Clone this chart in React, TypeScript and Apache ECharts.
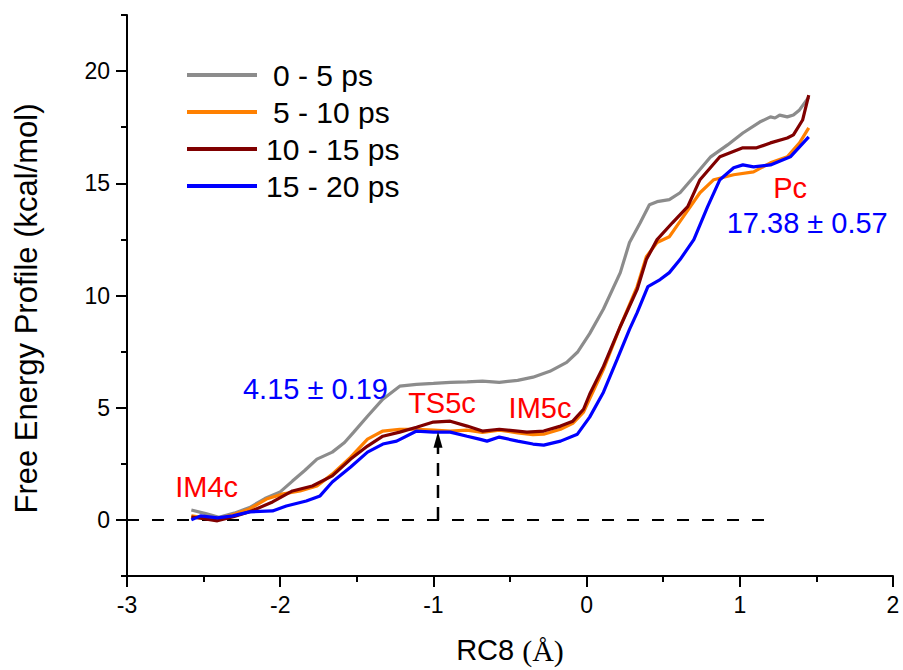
import React, { useEffect, useRef } from "react";
import * as echarts from "echarts";

// ---- data (RC8 in Å, free energy in kcal/mol) ----
const seriesNames = ["0 - 5 ps", "5 - 10 ps", "10 - 15 ps", "15 - 20 ps"];
const seriesColors = ["#8c8c8c", "#ff8000", "#800000", "#0000ff"];

const gray05: number[][] = [
  [-2.58, 0.44], [-2.48, 0.27], [-2.4, 0.12], [-2.3, 0.3], [-2.2, 0.55], [-2.1, 0.95],
  [-2.0, 1.25], [-1.92, 1.73], [-1.84, 2.2], [-1.76, 2.71], [-1.66, 3.02], [-1.58, 3.45],
  [-1.52, 3.91], [-1.43, 4.62], [-1.33, 5.38], [-1.22, 5.96], [-1.11, 6.04], [-1.0, 6.08],
  [-0.89, 6.13], [-0.78, 6.15], [-0.68, 6.18], [-0.57, 6.13], [-0.45, 6.22], [-0.35, 6.36],
  [-0.24, 6.62], [-0.13, 7.02], [-0.06, 7.47], [0.02, 8.3], [0.11, 9.4], [0.22, 11.02],
  [0.28, 12.36], [0.35, 13.24], [0.41, 14.04], [0.46, 14.18], [0.54, 14.27], [0.61, 14.58],
  [0.7, 15.29], [0.81, 16.18], [0.92, 16.71], [1.02, 17.24], [1.13, 17.73], [1.2, 17.96],
  [1.23, 17.91], [1.26, 18.04], [1.31, 17.96], [1.35, 18.04], [1.39, 18.27], [1.45, 18.84],
];

const orange510: number[][] = [
  [-2.58, 0.18], [-2.5, 0.1], [-2.41, 0.04], [-2.3, 0.25], [-2.2, 0.49], [-2.09, 0.93],
  [-1.98, 1.16], [-1.87, 1.29], [-1.76, 1.51], [-1.66, 2.04], [-1.54, 2.8], [-1.43, 3.6],
  [-1.33, 3.96], [-1.22, 4.04], [-1.11, 4.04], [-1.0, 4.0], [-0.89, 3.96], [-0.78, 4.0],
  [-0.68, 3.9], [-0.57, 4.0], [-0.45, 3.88], [-0.35, 3.8], [-0.28, 3.82], [-0.17, 4.04],
  [-0.09, 4.3], [-0.02, 4.8], [0.02, 5.4], [0.11, 6.71], [0.22, 8.62], [0.33, 10.4],
  [0.39, 11.73], [0.46, 12.36], [0.54, 12.62], [0.61, 13.3], [0.74, 14.58], [0.83, 15.16],
  [0.96, 15.38], [1.09, 15.51], [1.2, 15.91], [1.31, 16.18], [1.39, 16.8], [1.45, 17.47],
];

const maroon1015: number[][] = [
  [-2.58, 0.13], [-2.5, 0.05], [-2.41, -0.04], [-2.3, 0.15], [-2.2, 0.36], [-2.05, 0.8],
  [-1.92, 1.29], [-1.79, 1.51], [-1.66, 1.96], [-1.54, 2.71], [-1.43, 3.29], [-1.33, 3.73],
  [-1.22, 3.91], [-1.11, 4.13], [-1.0, 4.36], [-0.89, 4.4], [-0.78, 4.18], [-0.68, 3.96],
  [-0.57, 4.04], [-0.45, 3.96], [-0.39, 3.91], [-0.28, 3.96], [-0.17, 4.18], [-0.09, 4.4],
  [-0.02, 4.93], [0.02, 5.6], [0.11, 6.84], [0.22, 8.62], [0.33, 10.27], [0.39, 11.6],
  [0.46, 12.49], [0.56, 13.24], [0.66, 13.96], [0.74, 15.16], [0.87, 16.18], [1.02, 16.58],
  [1.11, 16.58], [1.2, 16.8], [1.31, 17.02], [1.35, 17.16], [1.41, 17.82], [1.45, 18.93],
];

const blue1520: number[][] = [
  [-2.58, 0.0], [-2.52, 0.18], [-2.41, 0.09], [-2.31, 0.18], [-2.2, 0.36], [-2.05, 0.4],
  [-1.96, 0.62], [-1.83, 0.84], [-1.74, 1.07], [-1.66, 1.69], [-1.54, 2.36], [-1.43, 3.02],
  [-1.33, 3.38], [-1.24, 3.51], [-1.11, 3.96], [-1.0, 3.91], [-0.89, 3.91], [-0.78, 3.73],
  [-0.7, 3.6], [-0.65, 3.51], [-0.57, 3.69], [-0.45, 3.51], [-0.35, 3.38], [-0.28, 3.33],
  [-0.17, 3.51], [-0.06, 3.82], [0.02, 4.58], [0.11, 5.69], [0.2, 7.16], [0.28, 8.49],
  [0.33, 9.24], [0.4, 10.4], [0.48, 10.71], [0.54, 11.02], [0.61, 11.6], [0.7, 12.49],
  [0.79, 13.96], [0.87, 15.16], [0.96, 15.69], [1.02, 15.82], [1.09, 15.73], [1.2, 15.82],
  [1.33, 16.18], [1.39, 16.62], [1.45, 17.07],
];

const allSeries = [gray05, orange510, maroon1015, blue1520];

const xTicks = [-3, -2, -1, 0, 1, 2];
const yTicks = [0, 5, 10, 15, 20];

// reference lines
const zeroLine: number[][] = [[-3, 0], [1.22, 0]];
const tsArrowX = -0.97;
const tsArrowShaft: number[][] = [[tsArrowX, 0], [tsArrowX, 3.45]];
const tsArrowTip: number[][] = [[tsArrowX, 3.93]];

// annotations
const labelTexts = ["IM4c", "4.15 ± 0.19", "TS5c", "IM5c", "Pc", "17.38 ± 0.57"];
const labelX = [-2.48, -1.77, -0.944, -0.304, 1.328, 1.44];
const labelY = [1.45, 5.82, 5.2, 4.98, 14.8, 13.24];
const labelColors = ["#ff0000", "#0000ff", "#ff0000", "#ff0000", "#ff0000", "#0000ff"];

const SANS = "'Liberation Sans', Arial, sans-serif";

export default function App() {
  const ref = useRef<HTMLDivElement>(null);

  useEffect(() => {
    if (!ref.current) return;
    const chart = echarts.init(ref.current, undefined, { renderer: "svg" });

    const lineSeries = allSeries.map((d, i) => ({
      name: seriesNames[i],
      type: "line",
      data: d,
      showSymbol: false,
      symbol: "none",
      lineStyle: { color: seriesColors[i], width: 3.2 },
      itemStyle: { color: seriesColors[i] },
      z: 3 + i,
    }));

    const annData = labelTexts.map((t, i) => ({
      value: [labelX[i], labelY[i]],
      label: {
        show: true,
        position: "inside",
        formatter: t,
        color: labelColors[i],
        fontSize: 29,
        fontFamily: SANS,
        opacity: 1,
      },
    }));

    const legendData = seriesNames.map((n, i) => ({
      name: n,
      textStyle: { padding: [0, 0, 0, i < 2 ? 11 : 4] },
    }));

    const option: any = {
      animation: false,
      backgroundColor: "#ffffff",
      textStyle: { fontFamily: SANS },
      grid: { left: 127, right: 10, top: 15, bottom: 93, containLabel: false },
      legend: {
        data: legendData,
        orient: "vertical",
        left: 187,
        top: 60,
        padding: 0,
        icon: "rect",
        itemWidth: 70,
        itemHeight: 4,
        itemGap: 7,
        textStyle: {
          fontSize: 30,
          fontFamily: SANS,
          color: "#000",
          lineHeight: 30,
          padding: [0, 0, 0, 4],
        },
        selectedMode: false,
      },
      xAxis: {
        type: "value",
        min: -3,
        max: 2,
        interval: 1,
        name: "RC8 {s|(Å)}",
        nameLocation: "middle",
        nameGap: 59,
        nameTextStyle: {
          fontSize: 29,
          fontFamily: SANS,
          color: "#000",
          rich: { s: { fontSize: 30, fontFamily: "'Liberation Serif', serif", color: "#000" } },
        },
        axisLine: { show: true, onZero: false, lineStyle: { color: "#000", width: 2 } },
        axisTick: { show: true, inside: false, length: 11, lineStyle: { color: "#000", width: 2 } },
        minorTick: { show: true, splitNumber: 2, length: 6, lineStyle: { color: "#000", width: 2 } },
        axisLabel: {
          fontSize: 23,
          color: "#000",
          margin: 17,
          fontFamily: SANS,
          customValues: xTicks,
        },
        splitLine: { show: false },
      },
      yAxis: [
        {
          type: "value",
          min: -2.5,
          max: 22.5,
          interval: 2.5,
          position: "left",
          name: "Free Energy Profile (kcal/mol)",
          nameLocation: "middle",
          nameGap: 85,
          nameRotate: 90,
          nameTextStyle: {
            fontSize: 31,
            fontFamily: SANS,
            color: "#000",
            padding: [0, 26, 0, 0],
          },
          axisLine: { show: true, onZero: false, lineStyle: { color: "#000", width: 2 } },
          axisTick: {
            show: true,
            length: 11,
            customValues: yTicks,
            lineStyle: { color: "#000", width: 2 },
          },
          axisLabel: {
            fontSize: 23,
            color: "#000",
            margin: 17,
            fontFamily: SANS,
            customValues: yTicks,
          },
          splitLine: { show: false },
        },
        {
          type: "value",
          min: -2.5,
          max: 22.5,
          interval: 2.5,
          position: "left",
          offset: 0,
          axisLine: { show: false, onZero: false },
          axisTick: { show: true, length: 6, lineStyle: { color: "#000", width: 2 } },
          axisLabel: { show: false },
          splitLine: { show: false },
        },
      ],
      series: [
        {
          name: "zero",
          type: "line",
          data: zeroLine,
          symbol: "none",
          lineStyle: { color: "#000", width: 2, type: [12, 13] },
          z: 2,
          silent: true,
        },
        ...lineSeries,
        {
          name: "arrowShaft",
          type: "line",
          data: tsArrowShaft,
          symbol: "none",
          lineStyle: { color: "#000", width: 2.5, type: [13, 9] },
          z: 8,
          silent: true,
        },
        {
          name: "arrowTip",
          type: "scatter",
          data: tsArrowTip,
          symbol: "triangle",
          symbolSize: [9, 16],
          symbolOffset: [0, "50%"],
          itemStyle: { color: "#000", opacity: 1 },
          z: 9,
          silent: true,
        },
        {
          name: "annotations",
          type: "scatter",
          data: annData,
          symbolSize: 1,
          itemStyle: { color: "rgba(0,0,0,0)", opacity: 1 },
          z: 10,
          silent: true,
        },
      ],
    };

    chart.setOption(option);
    return () => chart.dispose();
  }, []);

  return (
    <div
      ref={ref}
      style={{ position: "absolute", left: 0, top: 0, width: 903, height: 670 }}
    />
  );
}
